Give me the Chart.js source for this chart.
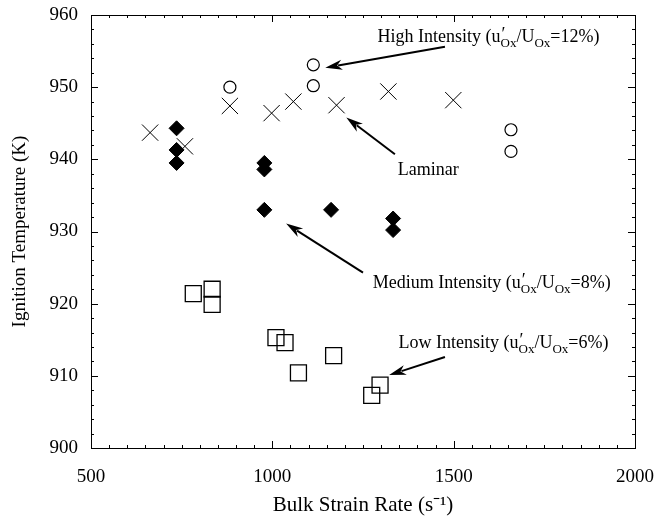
<!DOCTYPE html>
<html><head><meta charset="utf-8">
<script src="https://cdn.jsdelivr.net/npm/chart.js@4"></script>
<style>html,body{margin:0;padding:0;background:#fff}#wrap{width:655px;height:522px}</style>
</head><body><div id="wrap"><canvas id="c" width="655" height="522"></canvas></div>
<script>
// Data
const laminarX = [663, 759, 883, 998, 1058, 1177, 1320, 1499];
const laminarY = [943.7, 941.8, 947.4, 946.4, 948.0, 947.5, 949.4, 948.2];
const highX = [883, 1113, 1113, 1658, 1658];
const highY = [950.0, 953.1, 950.2, 944.1, 941.1];
const mediumX = [736, 736, 736, 978, 978, 978, 1162, 1333, 1333];
const mediumY = [944.3, 941.3, 939.5, 939.5, 938.6, 933.0, 933.0, 931.8, 930.2];
const lowX = [782, 834, 834, 1010, 1035, 1072, 1169, 1274, 1297];
const lowY = [921.4, 922.0, 919.9, 915.3, 914.6, 910.4, 912.8, 907.3, 908.7];
const xTicks = [500, 1000, 1500, 2000];
const yTicks = [900, 910, 920, 930, 940, 950, 960];

const pts = (xs, ys) => xs.map((x, i) => ({x: x, y: ys[i]}));
const SERIF = '"Liberation Serif", "Times New Roman", serif';

// annotations (anchor in data units)
const notes = [
  {x: 1290, y: 956.3, parts: [{t:'High Intensity (u'}, {sup:'\u2032', sub:'Ox'}, {t:'/U'}, {sub:'Ox'}, {t:'=12%)'}],
   arrow: [1476, 955.6, 1146, 952.7]},
  {x: 1346, y: 937.8, parts: [{t:'Laminar'}], arrow: [1338, 940.7, 1204, 945.8]},
  {x: 1277, y: 922.2, parts: [{t:'Medium Intensity (u'}, {sup:'\u2032', sub:'Ox'}, {t:'/U'}, {sub:'Ox'}, {t:'=8%)'}],
   arrow: [1250, 924.3, 1038, 931.1]},
  {x: 1348, y: 913.9, parts: [{t:'Low Intensity (u'}, {sup:'\u2032', sub:'Ox'}, {t:'/U'}, {sub:'Ox'}, {t:'=6%)'}],
   arrow: [1476, 912.6, 1322, 910.1]}
];

const framePlugin = {
  id: 'frame',
  beforeDatasetsDraw(chart) {
    const {ctx, chartArea: a, scales: {x, y}} = chart;
    ctx.save();
    ctx.strokeStyle = '#000';
    ctx.lineWidth = 1;
    ctx.strokeRect(a.left + 0.5, a.top + 0.5, a.right - a.left, a.bottom - a.top);
    ctx.beginPath();
    for (let v = 500; v <= 2000; v += 50) {
      const px = Math.round(x.getPixelForValue(v)) + 0.5;
      const len = (v % 500 === 0) ? 7 : 3;
      ctx.moveTo(px, a.bottom); ctx.lineTo(px, a.bottom - len);
      ctx.moveTo(px, a.top); ctx.lineTo(px, a.top + len);
    }
    for (let v = 900; v <= 960; v += 2) {
      const py = Math.round(y.getPixelForValue(v)) + 0.5;
      const len = (v % 10 === 0) ? 7 : 3;
      ctx.moveTo(a.left, py); ctx.lineTo(a.left + len, py);
      ctx.moveTo(a.right, py); ctx.lineTo(a.right - len, py);
    }
    ctx.stroke();
    ctx.restore();
  }
};

function drawParts(ctx, parts, x0, y0) {
  let x = x0;
  const main = '18px ' + SERIF, small = '13px ' + SERIF;
  ctx.textBaseline = 'alphabetic';
  ctx.textAlign = 'left';
  for (const p of parts) {
    if (p.t) { ctx.font = main; ctx.fillText(p.t, x, y0); x += ctx.measureText(p.t).width; }
    else {
      let w = 0;
      if (p.sup) { ctx.font = main; ctx.fillText(p.sup, x + 1, y0 - 2); w = Math.max(w, ctx.measureText(p.sup).width); }
      if (p.sub) { ctx.font = small; ctx.fillText(p.sub, x, y0 + 5); w = Math.max(w, ctx.measureText(p.sub).width); }
      x += w;
    }
  }
}

function arrow(ctx, x1, y1, x2, y2) {
  const ang = Math.atan2(y2 - y1, x2 - x1);
  const hl = 17, hw = 5;
  const bx = x2 - hl * Math.cos(ang), by = y2 - hl * Math.sin(ang);
  ctx.beginPath();
  ctx.moveTo(x1, y1); ctx.lineTo(bx + 4 * Math.cos(ang), by + 4 * Math.sin(ang));
  ctx.lineWidth = 2; ctx.stroke();
  ctx.beginPath();
  ctx.moveTo(x2, y2);
  ctx.lineTo(bx + hw * Math.sin(ang), by - hw * Math.cos(ang));
  ctx.lineTo(bx + 5 * Math.cos(ang), by + 5 * Math.sin(ang));
  ctx.lineTo(bx - hw * Math.sin(ang), by + hw * Math.cos(ang));
  ctx.closePath(); ctx.fill();
}

const notePlugin = {
  id: 'notes',
  afterDatasetsDraw(chart) {
    const {ctx, scales: {x, y}} = chart;
    ctx.save();
    ctx.fillStyle = '#000'; ctx.strokeStyle = '#000';
    for (const n of notes) {
      drawParts(ctx, n.parts, x.getPixelForValue(n.x), y.getPixelForValue(n.y));
      const a = n.arrow;
      arrow(ctx, x.getPixelForValue(a[0]), y.getPixelForValue(a[1]), x.getPixelForValue(a[2]), y.getPixelForValue(a[3]));
    }
    ctx.restore();
  }
};

new Chart(document.getElementById('c'), {
  type: 'scatter',
  data: {
    datasets: [
      {label: 'Laminar', data: pts(laminarX, laminarY), pointStyle: 'crossRot', pointRadius: 11.5, borderColor: '#000', borderWidth: 1, backgroundColor: '#000'},
      {label: 'High Intensity', data: pts(highX, highY), pointStyle: 'circle', pointRadius: 6, borderColor: '#000', borderWidth: 1.2, backgroundColor: '#fff'},
      {label: 'Medium Intensity', data: pts(mediumX, mediumY), pointStyle: 'rectRot', pointRadius: 7.5, borderColor: '#000', borderWidth: 1, backgroundColor: '#000'},
      {label: 'Low Intensity', data: pts(lowX, lowY), pointStyle: 'rect', pointRadius: 11.3, borderColor: '#000', borderWidth: 1.3, backgroundColor: 'rgba(0,0,0,0)'}
    ]
  },
  options: {
    responsive: false,
    animation: false,
    layout: {padding: {top: 15, right: 20, left: 0, bottom: 0}},
    plugins: {legend: {display: false}, tooltip: {enabled: false}},
    scales: {
      x: {
        type: 'linear', min: 500, max: 2000,
        afterBuildTicks: s => { s.ticks = xTicks.map(v => ({value: v})); },
        afterFit: s => { s.height = 74; s.paddingLeft = 0; s.paddingRight = 0; },
        grid: {display: false, drawTicks: false},
        border: {display: false},
        ticks: {color: '#000', font: {family: SERIF, size: 19}, padding: 18, maxRotation: 0, callback: v => String(v)},
        title: {display: true, text: 'Bulk Strain Rate (s\u207B\u00B9)', color: '#000', font: {family: SERIF, size: 21}, padding: {top: 6}}
      },
      y: {
        type: 'linear', min: 900, max: 960,
        afterBuildTicks: s => { s.ticks = yTicks.map(v => ({value: v})); },
        afterFit: s => { s.width = 91; s.paddingTop = 0; s.paddingBottom = 0; },
        grid: {display: false, drawTicks: false},
        border: {display: false},
        ticks: {color: '#000', font: {family: SERIF, size: 19}, padding: 13, callback: v => String(v)},
        title: {display: true, text: 'Ignition Temperature (K)', color: '#000', font: {family: SERIF, size: 19}, padding: {top: 9, bottom: 0}}
      }
    }
  },
  plugins: [framePlugin, notePlugin]
});
</script></body></html>
